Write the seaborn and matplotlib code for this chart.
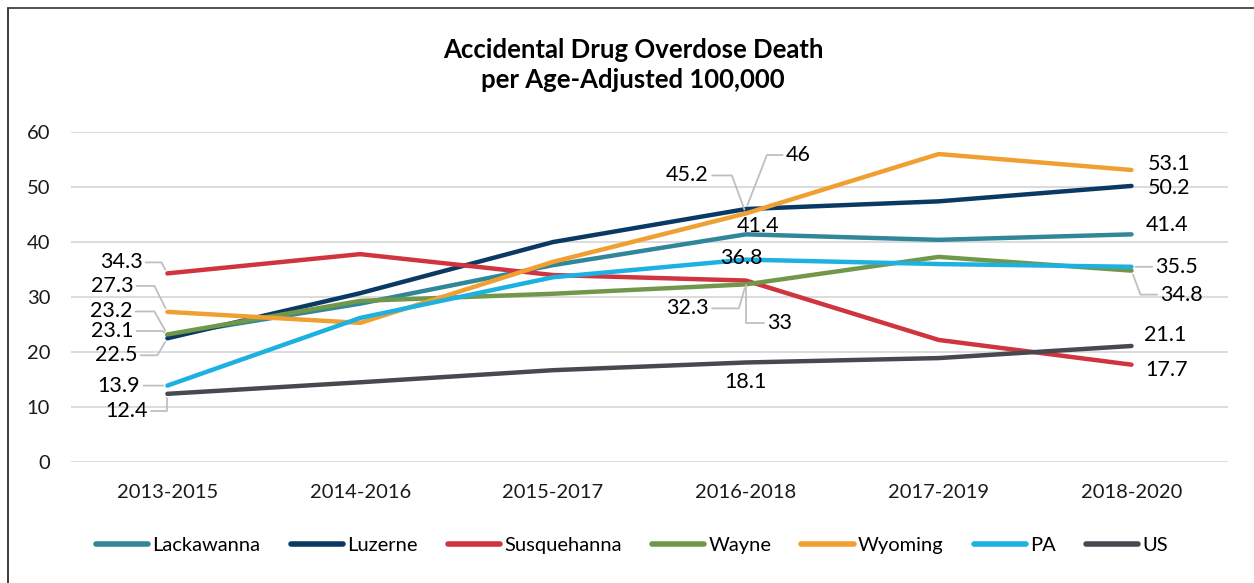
import math
import pandas as pd
import matplotlib.pyplot as plt
from matplotlib.lines import Line2D
import seaborn as sns

periods = ["2013-2015", "2014-2016", "2015-2017", "2016-2018", "2017-2019", "2018-2020"]
lackawanna = [23.1, 28.8, 35.8, 41.4, 40.4, 41.4]
luzerne = [22.5, 30.7, 40.0, 46.0, 47.4, 50.2]
susquehanna = [34.3, 37.8, 34.0, 33.0, 22.2, 17.7]
wayne = [23.2, 29.3, 30.6, 32.3, 37.3, 34.8]
wyoming = [27.3, 25.3, 36.4, 45.2, 56.0, 53.1]
pa = [13.9, 26.2, 33.6, 36.8, 36.0, 35.5]
us = [12.4, 14.5, 16.7, 18.1, 18.9, 21.1]

series = {
    "Lackawanna": lackawanna,
    "Luzerne": luzerne,
    "Susquehanna": susquehanna,
    "Wayne": wayne,
    "Wyoming": wyoming,
    "PA": pa,
    "US": us,
}
colors = {
    "Lackawanna": "#31879A",
    "Luzerne": "#0A3A64",
    "Susquehanna": "#D0343F",
    "Wayne": "#71984A",
    "Wyoming": "#F0A032",
    "PA": "#1DB1E2",
    "US": "#46494F",
}

rows = []
for name, vals in series.items():
    for p, v in zip(periods, vals):
        rows.append({"Period": p, "Rate": v, "Area": name})
df = pd.DataFrame(rows)

sns.set_style("white")
plt.rcParams["font.family"] = ["Lato", "DejaVu Sans"]

fig = plt.figure(figsize=(12.54, 5.83), dpi=100)
ax = fig.add_axes([0.0566, 0.2075, 0.9226, 0.566])

# frame lines (top and left only, like the cropped original)
fig.add_artist(Line2D([8 / 1254, 8 / 1254], [0, 1 - 8 / 583], color="#1A1A1A", lw=1.2))
fig.add_artist(Line2D([8 / 1254, 1], [1 - 8 / 583, 1 - 8 / 583], color="#333333", lw=1.2))

sns.lineplot(data=df, x="Period", y="Rate", hue="Area", palette=colors,
             linewidth=3.2, sort=False, ax=ax, legend=True)
for ln in ax.lines:
    ln.set_solid_capstyle("round")

ax.set_xlim(-0.5, 5.5)
ax.set_ylim(0, 60)
ax.set_yticks(range(0, 61, 10))
ax.grid(axis="y", color="#D9D9D9", linewidth=1.3)
ax.set_axisbelow(True)
for s in ax.spines.values():
    s.set_visible(False)
ax.set_xlabel("")
ax.set_ylabel("")
ax.tick_params(axis="both", length=0, labelsize=14.5, colors="#1A1A1A")
ax.tick_params(axis="x", pad=16)
ax.tick_params(axis="y", pad=15)

fig.text(0.505, 0.889, "Accidental Drug Overdose Death\nper Age-Adjusted 100,000",
         ha="center", va="center", fontsize=18.5, fontweight="bold",
         color="#000000", linespacing=1.3)

PX = 0.72  # pixels -> points at 100 dpi


def lab(i, val, tx, ty, ha="center", cx=None):
    # tx, ty: text anchor offset from the point in pixels; cx: leader corner x
    kw = dict(xy=(i, val), xytext=(tx * PX, ty * PX), textcoords="offset points",
              fontsize=15.5, ha=ha, va="center", color="#000000")
    if cx is not None or (ha != "center" and ty == 0):
        if ty == 0:
            conn = "arc3"
        else:
            ang = math.degrees(math.atan2(ty, cx))
            conn = f"angle,angleA=0,angleB={ang:.1f},rad=0"
        kw["arrowprops"] = dict(arrowstyle="-", color="#BFBFBF", lw=1.3,
                                shrinkA=0, shrinkB=3, connectionstyle=conn)
    ax.annotate(f"{val:g}", **kw)


# 2013-2015
lab(0, susquehanna[0], -25, 11, "right", -6)
lab(0, wyoming[0], -34, 26, "right", -13)
lab(0, wayne[0], -35, 23, "right", -13)
lab(0, lackawanna[0], -34, 4, "right", -5)
lab(0, luzerne[0], -30, -17, "right", -10)
lab(0, pa[0], -27, 0, "right")
lab(0, us[0], -20, -17, "right", 0)

# 2016-2018
lab(3, wyoming[3], -37, 38, "right", -14)
lab(3, luzerne[3], 40, 54, "left", 21)
lab(3, lackawanna[3], 12, 8)
lab(3, pa[3], -4, 2)
lab(3, wayne[3], -37, -24, "right", -7)
lab(3, susquehanna[3], 21, -42, "left", 0)
lab(3, us[3], 0, -20)

# 2018-2020
lab(5, wyoming[5], 16, 6, "left")
lab(5, luzerne[5], 16, -2, "left")
lab(5, lackawanna[5], 14, 9, "left")
lab(5, pa[5], 24, 0, "left")
lab(5, wayne[5], 29, -24, "left", 9)
lab(5, us[5], 12, 11, "left")
lab(5, susquehanna[5], 14, -5, "left")

handles, labels = ax.get_legend_handles_labels()
ax.legend(handles, labels, loc="center", bbox_to_anchor=(0.485, -0.252), ncol=7,
          frameon=False, fontsize=14.5, handlelength=2.6, handletextpad=0.2,
          columnspacing=1.5, labelcolor="#000000")
for h in ax.get_legend().get_lines():
    h.set_linewidth(4)
    h.set_solid_capstyle("round")

fig.savefig("out.png", dpi=100)
